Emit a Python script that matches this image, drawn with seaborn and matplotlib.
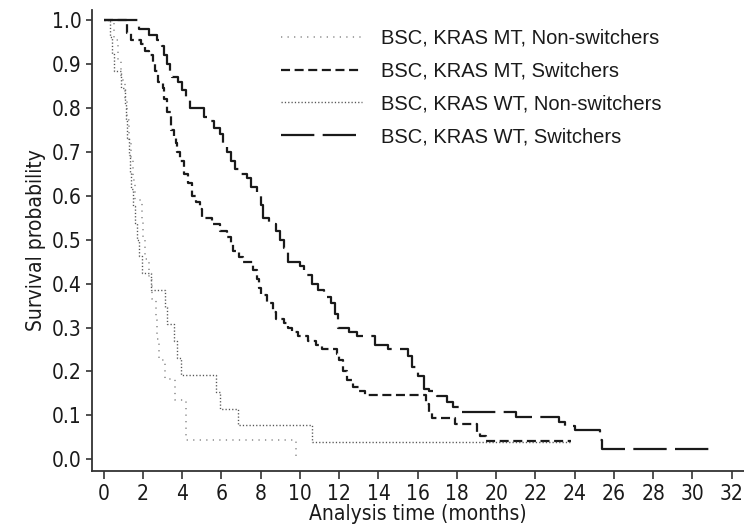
import matplotlib
matplotlib.use("Agg")
import matplotlib.pyplot as plt
import seaborn as sns
import pandas as pd
import numpy as np

# ---------------- data ----------------
series_names = [
    "BSC, KRAS MT, Non-switchers",
    "BSC, KRAS MT, Switchers",
    "BSC, KRAS WT, Non-switchers",
    "BSC, KRAS WT, Switchers",
]

mt_non_t = [0, 0.5, 0.7, 0.9, 1.1, 1.2, 1.3, 1.4, 1.5, 1.6, 1.95, 2.0, 2.1, 2.3,
            2.45, 2.65, 2.7, 2.8, 3.1, 3.65, 4.2, 9.8]
mt_non_s = [1.0, 0.955, 0.909, 0.864, 0.818, 0.773, 0.727, 0.682, 0.636, 0.591,
            0.545, 0.50, 0.455, 0.409, 0.364, 0.318, 0.273, 0.227, 0.182, 0.136,
            0.045, 0.0]

mt_sw_t = [0, 1.2, 1.4, 1.9, 2.1, 2.3, 2.5, 2.6, 2.75, 3.0, 3.05, 3.2, 3.45, 3.6,
           3.7, 3.75, 3.9, 4.1, 4.3, 4.5, 4.7, 4.9, 5.0, 5.5, 5.9, 6.3, 6.5, 6.6,
           6.9, 7.1, 7.6, 7.8, 7.9, 8.0, 8.3, 8.6, 8.8, 9.2, 9.4, 9.6, 9.9, 10.4,
           10.8, 11.1, 11.9, 12.0, 12.2, 12.4, 12.7, 13.0, 13.3, 16.4, 16.6, 16.75,
           17.9, 19.0, 19.2, 19.5, 23.8]
mt_sw_s = [1.0, 0.97, 0.955, 0.945, 0.93, 0.92, 0.905, 0.885, 0.86, 0.845, 0.82,
           0.79, 0.75, 0.735, 0.72, 0.70, 0.68, 0.65, 0.63, 0.60, 0.585, 0.57,
           0.55, 0.535, 0.52, 0.505, 0.49, 0.475, 0.46, 0.45, 0.43, 0.41, 0.39,
           0.375, 0.355, 0.335, 0.32, 0.31, 0.30, 0.29, 0.28, 0.27, 0.26, 0.25,
           0.24, 0.225, 0.20, 0.18, 0.165, 0.155, 0.146, 0.125, 0.108, 0.094,
           0.08, 0.06, 0.053, 0.041, 0.041]

wt_non_t = [0, 0.3, 0.4, 0.5, 0.9, 1.1, 1.15, 1.2, 1.3, 1.35, 1.4, 1.5, 1.6, 1.7,
            1.8, 1.95, 2.4, 3.1, 3.2, 3.6, 3.75, 3.95, 5.7, 5.9, 6.85, 10.6, 23.8]
wt_non_s = [1.0, 0.962, 0.923, 0.885, 0.846, 0.808, 0.769, 0.731, 0.692, 0.654,
            0.615, 0.577, 0.538, 0.50, 0.462, 0.423, 0.385, 0.346, 0.308, 0.269,
            0.231, 0.192, 0.154, 0.115, 0.077, 0.0385, 0.0385]

wt_sw_t = [0, 1.8, 2.3, 2.7, 2.95, 3.05, 3.2, 3.35, 3.5, 3.8, 4.0, 4.2, 4.4, 5.1,
           5.3, 5.6, 5.9, 6.1, 6.3, 6.5, 6.7, 6.9, 7.3, 7.5, 7.8, 8.0, 8.1, 8.4,
           8.8, 9.0, 9.2, 9.4, 10.0, 10.2, 10.6, 10.9, 11.2, 11.6, 11.8, 11.95,
           12.5, 12.9, 13.8, 14.5, 15.5, 15.7, 16.0, 16.3, 16.6, 17.0, 17.5, 17.8,
           18.1, 21.0, 23.2, 23.5, 24.0, 25.3, 25.4, 31.0]
wt_sw_s = [1.0, 0.98, 0.965, 0.955, 0.94, 0.92, 0.90, 0.88, 0.87, 0.86, 0.84,
           0.82, 0.80, 0.78, 0.77, 0.755, 0.74, 0.72, 0.70, 0.68, 0.66, 0.65,
           0.64, 0.62, 0.60, 0.58, 0.55, 0.535, 0.52, 0.50, 0.48, 0.45, 0.44,
           0.42, 0.40, 0.385, 0.37, 0.355, 0.33, 0.30, 0.29, 0.28, 0.26, 0.25,
           0.235, 0.21, 0.19, 0.16, 0.155, 0.145, 0.13, 0.12, 0.108, 0.097,
           0.085, 0.075, 0.066, 0.045, 0.023, 0.023]

x_ticks = list(range(0, 33, 2))
y_ticks = [0.0, 0.1, 0.2, 0.3, 0.4, 0.5, 0.6, 0.7, 0.8, 0.9, 1.0]

# ---------------- styling ----------------
sns.set_theme(style="white")
plt.rcParams["lines.scale_dashes"] = False
plt.rcParams["font.family"] = ["Liberation Sans", "DejaVu Sans"]
narrow = dict(family=["DejaVu Sans"], stretch="condensed")

fig = plt.figure(figsize=(7.44, 5.31), dpi=100)
ax = fig.add_axes([92 / 744, 60 / 531, (744 - 92) / 744, (471 - 10) / 531])

styles = {
    series_names[0]: dict(color="#8a8a8a", lw=1.1, ls=(0, (0.9, 3.8))),
    series_names[1]: dict(color="#1a1a1a", lw=1.6, ls=(0, (6.5, 3.3))),
    series_names[2]: dict(color="#555555", lw=1.0, ls=(0, (0.9, 1.5))),
    series_names[3]: dict(color="#1a1a1a", lw=1.6, ls=(0, (24, 6))),
}

data = [
    (series_names[0], mt_non_t, mt_non_s),
    (series_names[1], mt_sw_t, mt_sw_s),
    (series_names[2], wt_non_t, wt_non_s),
    (series_names[3], wt_sw_t, wt_sw_s),
]

for name, t, s in data:
    df = pd.DataFrame({"time": t, "surv": s})
    st = styles[name]
    sns.lineplot(data=df, x="time", y="surv", ax=ax, estimator=None, sort=False,
                 drawstyle="steps-post", color=st["color"], linewidth=st["lw"],
                 linestyle=st["ls"], label=name)

ax.set_xlim(-0.6, 32.63)
ax.set_ylim(-0.0266, 1.0228)
ax.set_xticks(x_ticks)
ax.set_yticks(y_ticks)
ax.set_xticklabels([str(v) for v in x_ticks], fontsize=15, color="#1a1a1a", **narrow)
ax.set_yticklabels([f"{v:.1f}" for v in y_ticks], fontsize=15, color="#1a1a1a", **narrow)
ax.tick_params(axis="x", direction="out", length=6, width=1.2, color="#333333", pad=3, bottom=True)
ax.tick_params(axis="y", direction="out", length=4.5, width=1.2, color="#333333", pad=3, left=True)

for side in ["top", "right"]:
    ax.spines[side].set_visible(False)
for side in ["left", "bottom"]:
    ax.spines[side].set_color("#333333")
    ax.spines[side].set_linewidth(1.3)

ax.set_xlabel("Analysis time (months)", fontsize=15, color="#1a1a1a", labelpad=0, **narrow)
ax.set_ylabel("Survival probability", fontsize=15, color="#1a1a1a", labelpad=4, **narrow)

leg = ax.legend(loc="upper left", bbox_to_anchor=(281 / 744, 1 - 29 / 531),
                bbox_transform=fig.transFigure, frameon=False, fontsize=14.5,
                handlelength=4.0, handletextpad=0.95, labelspacing=0.68,
                borderpad=0, borderaxespad=0)
for txt in leg.get_texts():
    txt.set_color("#1a1a1a")

fig.savefig("out.png", dpi=100)
